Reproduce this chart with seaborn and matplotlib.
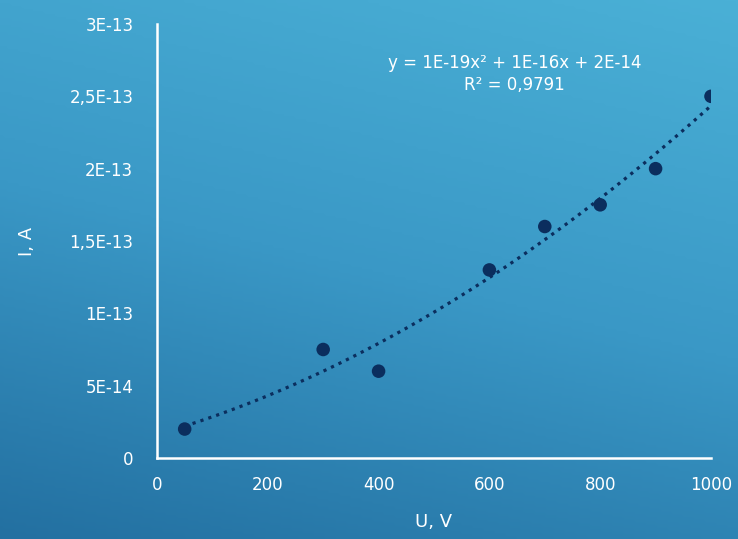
import numpy as np
import pandas as pd
import seaborn as sns
import matplotlib.pyplot as plt
from matplotlib.colors import LinearSegmentedColormap

# measured points
voltage = [50, 300, 400, 600, 700, 800, 900, 1000]
current = [2.0e-14, 7.5e-14, 6.0e-14, 1.3e-13, 1.6e-13, 1.75e-13, 2.0e-13, 2.5e-13]

x_ticks = [0, 200, 400, 600, 800, 1000]
y_ticks = [0, 5e-14, 1e-13, 1.5e-13, 2e-13, 2.5e-13, 3e-13]
y_tick_labels = ["0", "5E-14", "1E-13", "1,5E-13", "2E-13", "2,5E-13", "3E-13"]

df = pd.DataFrame({"U": voltage, "I": current})

sns.set_style("white")
plt.rcParams['font.family'] = ['DejaVu Sans']

fig = plt.figure(figsize=(7.38, 5.39), dpi=100)

# gradient background
bg = fig.add_axes([0, 0, 1, 1])
bg.set_axis_off()
cmap = LinearSegmentedColormap.from_list("bg", ["#2370a1", "#3a98c6", "#4ab0d6"])
gx, gy = np.meshgrid(np.linspace(0, 1, 200), np.linspace(0, 1, 200))
grad = 0.75 * gy + 0.25 * gx
bg.imshow(grad, cmap=cmap, origin="lower", extent=[0, 1, 0, 1], aspect="auto")

ax = fig.add_axes([0.2127, 0.1503, 0.7507, 0.8052])
ax.patch.set_alpha(0)

# quadratic trendline
coef = np.polyfit(voltage, current, 2)
xs = np.linspace(min(voltage), max(voltage), 200)
trend = pd.DataFrame({"U": xs, "I": np.polyval(coef, xs)})
sns.lineplot(data=trend, x="U", y="I", ax=ax, color="#0b2e5e", lw=2.3,
             linestyle=(0, (1, 1.6)), zorder=2)
sns.scatterplot(data=df, x="U", y="I", ax=ax, color="#0b2e5e", s=95,
                edgecolor="none", zorder=3)

ax.set_xlim(0, 1000)
ax.set_ylim(0, 3e-13)
ax.set_xticks(x_ticks)
ax.set_xticklabels([str(t) for t in x_ticks])
ax.set_yticks(y_ticks)
ax.set_yticklabels(y_tick_labels)
ax.tick_params(colors="white", labelsize=12, length=0)
ax.tick_params(axis="x", pad=13)
ax.tick_params(axis="y", pad=17)

for s in ["top", "right"]:
    ax.spines[s].set_visible(False)
for s in ["left", "bottom"]:
    ax.spines[s].set_color("white")
    ax.spines[s].set_linewidth(1.8)

ax.set_xlabel("U, V", color="white", fontsize=13, labelpad=14)
ax.set_ylabel("I, A", color="white", fontsize=13, labelpad=24)

ax.text(0.645, 0.885, "y = 1E-19x² + 1E-16x + 2E-14\nR² = 0,9791",
        transform=ax.transAxes, ha="center", va="center", color="white",
        fontsize=12, linespacing=1.3)

fig.savefig("out.png", dpi=100)
